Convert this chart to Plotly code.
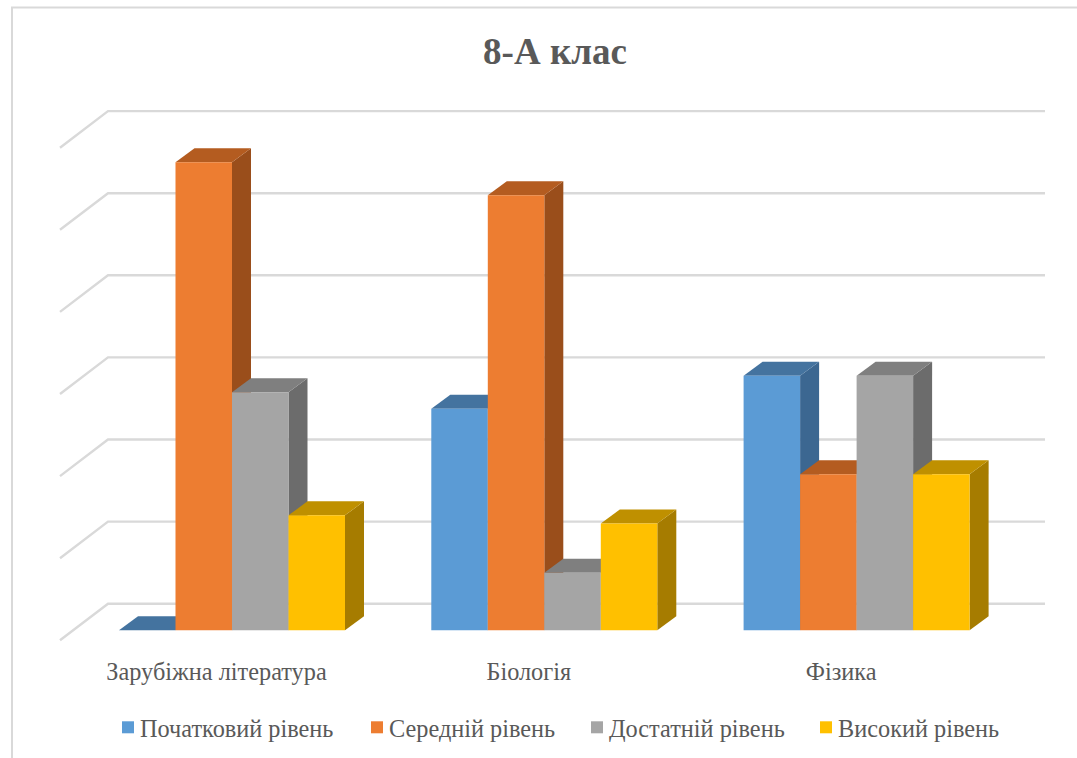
import plotly.graph_objects as go

categories = ["Зарубіжна література", "Біологія", "Фізика"]
series_names = ["Початковий рівень", "Середній рівень", "Достатній рівень", "Високий рівень"]
pochatkovyi = [0, 27, 31]
serednii = [57, 53, 19]
dostatnii = [29, 7, 31]
vysokyi = [14, 13, 19]
series_values = [pochatkovyi, serednii, dostatnii, vysokyi]
front_colors = ["#5B9BD5", "#ED7D31", "#A5A5A5", "#FFC000"]
top_colors = ["#44739F", "#B45C20", "#7F7F7F", "#BF9000"]
side_colors = ["#3C6791", "#9A4E1B", "#6C6C6C", "#A67C00"]
grid_values = [0, 10, 20, 30, 40, 50, 60]
legend_text_left = [140, 389, 609, 838]

W, H = 1077, 758
PX_X = 312.3        # pixels per category
PX_Y = 8.21         # pixels per value unit
X0_PX, Y0_PX = 232, 630.3
BAR_W = 56.5 / PX_X
DX, DY = 19 / PX_X, 14 / PX_Y
LABEL_SHIFT = -15.5 / PX_X
FONT = "Liberation Serif"
TXT = "#595959"
GRID = "#D9D9D9"

xr = [-X0_PX / PX_X, (W - X0_PX) / PX_X]
yr = [(Y0_PX - H) / PX_Y, Y0_PX / PX_Y]

fig = go.Figure()

# walls: back-wall gridlines with a slanted run on the left wall
gx = [(60 - X0_PX) / PX_X, (108 - X0_PX) / PX_X, (1045 - X0_PX) / PX_X]
for v in grid_values:
    fig.add_trace(go.Scatter(
        x=gx, y=[v - 10 / PX_Y, v + 26.6 / PX_Y, v + 26.6 / PX_Y], mode="lines",
        line=dict(color=GRID, width=2.4), showlegend=False, hoverinfo="skip"))

n = len(series_names)
# depth faces, left to right
for ci in range(len(categories)):
    for si in range(n):
        v = series_values[si][ci]
        left = ci + (si - n / 2) * BAR_W
        right = left + BAR_W
        fig.add_trace(go.Scatter(
            x=[right, right + DX, right + DX, right, right],
            y=[0, DY, v + DY, v, 0], mode="lines", fill="toself",
            fillcolor=side_colors[si], line=dict(width=0),
            showlegend=False, hoverinfo="skip"))
        fig.add_trace(go.Scatter(
            x=[left, left + DX, right + DX, right, left],
            y=[v, v + DY, v + DY, v, v], mode="lines", fill="toself",
            fillcolor=top_colors[si], line=dict(width=0),
            showlegend=False, hoverinfo="skip"))

# front faces, on an overlay so they lie above the depth faces
legend_ids = ["legend", "legend2", "legend3", "legend4"]
for si in range(n):
    fig.add_trace(go.Bar(
        x=list(range(len(categories))), y=series_values[si], name=series_names[si],
        marker=dict(color=front_colors[si], line=dict(width=0)),
        xaxis="x2", yaxis="y2", width=BAR_W,
        offset=(si - n / 2) * BAR_W, legend=legend_ids[si], showlegend=True))

legends = {
    legend_ids[si]: dict(
        orientation="h", x=(legend_text_left[si] - 40) / W, xanchor="left",
        y=1 - 727.5 / H, yanchor="middle",
        font=dict(family=FONT, size=24.3, color=TXT), bgcolor="rgba(0,0,0,0)")
    for si in range(n)
}

fig.update_layout(
    width=W, height=H, margin=dict(l=0, r=0, t=0, b=0), autosize=False,
    paper_bgcolor="white", plot_bgcolor="white",
    font=dict(family=FONT, color=TXT, size=24),
    barmode="overlay",
    title=dict(text="<b>8-А клас</b>", x=555 / W, xanchor="center",
               y=1 - 51 / H, yanchor="middle",
               font=dict(family=FONT, size=37, color=TXT)),
    xaxis=dict(range=xr, tickvals=[c + LABEL_SHIFT for c in range(len(categories))],
               ticktext=categories,
               anchor="free", position=1 - Y0_PX / H,
               showgrid=False, zeroline=False, showline=False,
               ticks="outside", ticklen=20, tickcolor="rgba(0,0,0,0)",
               tickfont=dict(family=FONT, size=24.3, color=TXT)),
    yaxis=dict(range=yr, visible=False),
    xaxis2=dict(range=xr, overlaying="x", visible=False),
    yaxis2=dict(range=yr, overlaying="y", visible=False),
    shapes=[dict(type="rect", xref="paper", yref="paper",
                 x0=12 / W, x1=1.02, y0=-0.02, y1=1 - 7.5 / H,
                 line=dict(color=GRID, width=2), layer="below")],
    **legends,
)

fig.write_html("out.html", config=dict(displayModeBar=False),
               post_script=("document.body.style.margin='0';document.body.style.overflow='hidden';"
                            "var s=document.createElement('style');"
                            "s.textContent='.legendpoints{transform:translateX(8px)}';"
                            "document.head.appendChild(s);"))
